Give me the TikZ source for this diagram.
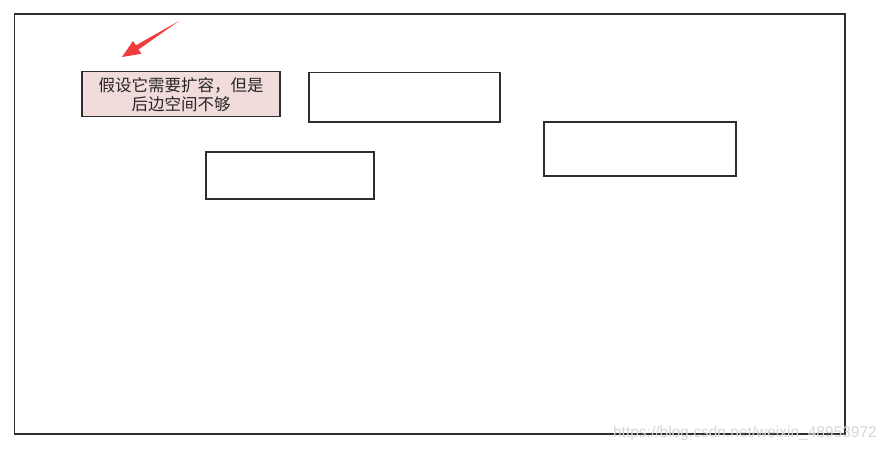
\documentclass[tikz,border=0pt]{standalone}
\usepackage{fontspec}
\setmainfont{Liberation Serif}
\newfontfamily\cjk{Noto Sans CJK SC}
\newfontfamily\wmfont{Liberation Sans}
\definecolor{pinkfill}{HTML}{F2DCDB}
\definecolor{linegray}{HTML}{2E2E2E}
\definecolor{arrowred}{HTML}{F03C3C}
\definecolor{wmgray}{HTML}{D6D6D6}
\tikzset{
  frame/.style={draw=linegray, line width=1.4pt},
  emptybox/.style={draw=linegray, line width=1.4pt, fill=white, inner sep=0pt},
  notebox/.style={draw=linegray, line width=1.4pt, fill=pinkfill, inner sep=0pt, align=center,
    font=\cjk\fontsize{16.5}{19}\selectfont, text=black!85},
}
\begin{document}
\begin{tikzpicture}[x=1pt,y=-1pt]
\useasboundingbox[fill=white] (0,0) rectangle (886,452);
\node[frame, minimum width=830.5pt, minimum height=420pt, inner sep=0pt] (outer) at (429.75,224) {};
\node[notebox, minimum width=198pt, minimum height=45pt] (note) at (181,94.2) {假设它需要扩容，但是\\后边空间不够};
\node[emptybox, minimum width=191pt, minimum height=49.5pt] (b1) at (404.5,97.25) {};
\node[emptybox, minimum width=192pt, minimum height=54pt] (b2) at (640,149) {};
\node[emptybox, minimum width=168pt, minimum height=47pt] (b3) at (290,175.5) {};
\coordinate (tail) at (179,21);
\coordinate (tip) at (122,57);
\fill[arrowred] (tail) -- (138.5,49.5) -- (141.5,53.8) -- (tip) -- (133,41) -- (135.9,45.3) -- cycle;
\node[font=\wmfont\fontsize{15.5}{18}\selectfont, text=wmgray, anchor=east, inner sep=0pt] (wm) at (877,433) {https://blog.csdn.net/weixin\_48953972};
\end{tikzpicture}
\end{document}
